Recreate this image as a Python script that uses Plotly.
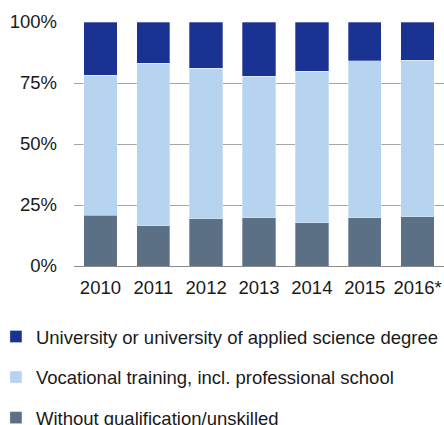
import plotly.graph_objects as go

years = ["2010", "2011", "2012", "2013", "2014", "2015", "2016*"]
unskilled = [20.8, 16.5, 19.3, 19.7, 17.8, 19.7, 20.2]
vocational = [57.4, 66.6, 61.8, 58.0, 62.1, 64.5, 64.2]
university = [21.8, 16.9, 18.9, 22.3, 20.1, 15.8, 15.6]

series = [
    ("Without qualification/unskilled", unskilled, "#5b7085", 3),
    ("Vocational training, incl. professional school", vocational, "#b6d3f0", 2),
    ("University or university of applied science degree", university, "#1a3291", 1),
]

fig = go.Figure()
for name, values, color, rank in series:
    fig.add_trace(
        go.Bar(
            x=years,
            y=values,
            name=name,
            legendgroup=name,
            legendrank=rank,
            marker={"color": color, "line": {"color": "rgba(255,255,255,0.6)", "width": 0.5}},
            width=0.63,
        )
    )

fig.update_layout(
    barmode="stack",
    width=444,
    height=425,
    margin={"l": 74, "r": 0, "t": 22, "b": 159, "autoexpand": False},
    paper_bgcolor="white",
    plot_bgcolor="white",
    font={"family": "Liberation Sans, Arial, sans-serif", "size": 18.5, "color": "#1a1a1a"},
    showlegend=True,
    legend={
        "orientation": "v",
        "traceorder": "grouped",
        "x": -0.211,
        "xanchor": "left",
        "y": -0.213,
        "yanchor": "top",
        "tracegroupgap": 13.5,
        "itemwidth": 30,
        "font": {"size": 18.5},
        "bgcolor": "rgba(0,0,0,0)",
    },
)
fig.update_xaxes(
    range=[-0.5, 6.5],
    showgrid=False,
    showline=False,
    ticks="",
    ticklabelstandoff=8,
)
fig.update_yaxes(
    range=[0, 100],
    tickvals=[0, 25, 50, 75, 100],
    ticktext=["0%", "25%", "50%", "75%", "100%"],
    showgrid=True,
    gridcolor="#a6a6a6",
    gridwidth=1,
    zeroline=True,
    zerolinecolor="#8c8c8c",
    zerolinewidth=1,
    ticklabelstandoff=16,
)

# drop the default page margin so the figure fills the window exactly
fig.write_html(
    "out.html",
    config={"displayModeBar": False},
    post_script="document.body.style.margin='0';document.body.style.overflow='hidden';",
)
